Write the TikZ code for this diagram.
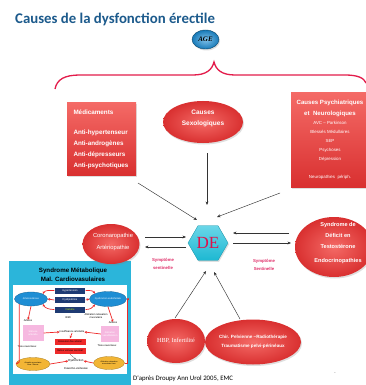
\documentclass[tikz,border=0pt]{standalone}
\usepackage{fontspec}
\setmainfont{Liberation Sans}
\newfontfamily\carl{Carlito}
\newfontfamily\tms{Liberation Serif}
\usetikzlibrary{shapes.geometric,arrows.meta,shadows}
\definecolor{titleblue}{HTML}{1C5A8C}
\definecolor{bracered}{HTML}{E31C4B}
\definecolor{boxredlt}{HTML}{F46A66}
\definecolor{boxreddk}{HTML}{D93030}
\definecolor{decyan}{HTML}{1DB8D2}
\definecolor{decyanlt}{HTML}{6AD6E8}
\definecolor{dered}{HTML}{E0104A}
\definecolor{sentinel}{HTML}{E0306A}
\definecolor{agebl}{HTML}{1B8FD8}
\definecolor{panelcyan}{HTML}{2BB5DA}
\definecolor{navy}{HTML}{1F3B73}
\definecolor{inblue}{HTML}{1E8ED4}
\definecolor{inred}{HTML}{EE2A2A}
\definecolor{inpink}{HTML}{F6B8E0}
\definecolor{leaforange}{HTML}{F2B535}
\newcommand{\psyb}{\bfseries\fontsize{6.1}{9}\selectfont}
\newcommand{\psys}{\mdseries\fontsize{4.4}{9}\selectfont}
\tikzset{
  shadowed/.style={drop shadow={shadow xshift=1pt,shadow yshift=-1.5pt,opacity=0.25}},
  redbox/.style={rectangle, inner sep=0pt, top color=boxredlt, bottom color=boxreddk, text=white, shadowed},
  redell/.style={ellipse, inner sep=0pt, inner color=boxredlt, outer color=boxreddk, text=white, shadowed},
  conn/.style={draw=black!80, line width=0.45pt, -{Stealth[length=3.5pt,width=2.8pt]}},
  sent/.style={text=sentinel, font=\bfseries\fontsize{4.3}{8}\selectfont, align=center, inner sep=0pt},
  intxt/.style={font=\fontsize{2.6}{3.2}\selectfont, align=center, inner sep=0pt},
  inell/.style={ellipse, fill=inblue, draw=inblue!70!black, line width=0.3pt, text=white, font=\fontsize{2.4}{3}\selectfont, inner sep=0pt},
  inbox/.style={rectangle, fill=navy, draw=white, line width=0.4pt, text=white, font=\fontsize{2.6}{3}\selectfont, minimum width=31pt, minimum height=7pt, inner sep=0pt},
  inpinkbox/.style={rectangle, fill=inpink, text=white, font=\fontsize{2.4}{3}\selectfont, align=center, inner sep=0pt},
  inredbox/.style={rectangle, fill=inred, draw=white, line width=0.3pt, text=black, font=\fontsize{2.4}{3}\selectfont, minimum width=32pt, minimum height=7pt, inner sep=0pt},
  leaf/.style={ellipse, fill=leaforange, draw=leaforange!70!black, line width=0.3pt, font=\fontsize{1.9}{2.6}\selectfont, align=center, inner sep=0pt},
  inarrow/.style={draw=inred, line width=0.7pt, -{Stealth[length=2.5pt,width=2.5pt]}},
}
\begin{document}
\begin{tikzpicture}[x=1pt,y=-1pt]
\clip (0,0) rectangle (366,385);
\fill[white] (0,0) rectangle (366,385);

% title
\node[anchor=west, inner sep=0pt, font=\carl\bfseries\fontsize{14.8}{15}\selectfont, text=titleblue] (title) at (15,19) {Causes de la dysfonction érectile};

% AGE
\node[ellipse, minimum width=27pt, minimum height=19pt, inner sep=0pt, inner color=agebl!55!white, outer color=agebl!85!black, draw=agebl!50!black, line width=0.4pt, shadowed] (age) at (205.5,39.5) {\tms\bfseries\itshape\fontsize{7}{7}\selectfont AGE};

% brace
\draw[bracered, line width=1.3pt] (55,89) .. controls (57,79) and (65,75) .. (80,75) -- (193,75)
  .. controls (206,75) and (212,70) .. (214,62) .. controls (216,70) and (222,75) .. (235,75)
  -- (345,75) .. controls (358,75) and (364,78) .. (366,83);

% Medicaments
\node[redbox, minimum width=69pt, minimum height=72pt, text width=56pt, align=left,
  font=\bfseries\fontsize{6.3}{11}\selectfont] (med) at (101.5,139)
  {Médicaments\\[9pt]Anti-hypertenseur\\Anti-androgènes\\Anti-dépresseurs\\Anti-psychotiques};

% Causes sexologiques
\node[redell, minimum width=80pt, minimum height=42pt] (sexo) at (203,122) {};
\node[text=white, font=\bfseries\fontsize{6.5}{11}\selectfont, align=center, inner sep=0pt] (sexot) at (203,118) {Causes\\Sexologiques};

% Psychiatriques
\node[redbox, minimum width=76pt, minimum height=94pt] (psy) at (329,140) {};
\node[text=white, align=center, inner sep=0pt, font=\fontsize{4.4}{9}\selectfont] (psyt) at (330,140)
  {\psyb Causes Psychiatriques\\[2pt]\psyb et~ Neurologiques\\
   \psys AVC -- Parkinson\\\psys Blessés Médullaires\\\psys SEP\\\psys Psychoses\\\psys Dépression\\[9pt]\psys Neuropathies~ périph.};

% inset panel
\fill[panelcyan] (9,261) rectangle (131,386);
\fill[white] (13,285) rectangle (127,374);
\node[font=\bfseries\fontsize{6.2}{9}\selectfont, align=center, inner sep=0pt] (inst) at (73,274.5) {Syndrome Métabolique\\Mal. Cardiovasulaires};
\node[inell, minimum width=33pt, minimum height=14pt] (ath) at (31,299) {Athérosclérose};
\node[inell, minimum width=32pt, minimum height=15pt] (dys) at (108,299) {Dysfonction endothéliale};
\node[inbox] (hyp) at (70,290.5) {Hypertension};
\node[inbox] (dysl) at (70,300) {Dyslipidémie};
\node[inbox, text=yellow!70!green] (diab) at (70,309.5) {Diabète};
\draw[inarrow] (hyp.west) to[out=180,in=60] (ath.north east);
\draw[inarrow] (dysl.west) -- (ath.east);
\draw[inarrow] (diab.west) to[out=180,in=-60] (ath.south east);
\draw[inarrow] (hyp.east) to[out=0,in=120] (dys.north west);
\draw[inarrow] (dysl.east) -- (dys.west);
\draw[inarrow] (diab.east) to[out=0,in=-120] (dys.south west);
\node[intxt] (irmi) at (68,318) {IRMI};
\node[intxt] (altr) at (96,316) {Altération relaxation\\musculaire};
\node[intxt] (art1) at (28,321) {Artères};
\node[intxt] (art2) at (113,323) {Artères};
\node[inpinkbox, minimum width=21pt, minimum height=16pt] (sten) at (33,333) {Sténose\\artérielle};
\node[inpinkbox, minimum width=18pt, minimum height=16pt] (vaso) at (110,334) {Altération\\vasodilatation};
\node[intxt] (insuf) at (72,332) {Insuffisance artérielle};
\node[inredbox] (dim) at (70,342) {Diminution flux artériel};
\node[inredbox] (ret) at (70,350.5) {Retour veineux anormal};
\node[intxt] (tc1) at (27,347) {Tissu caverneux};
\node[intxt] (tc2) at (107,346) {Tissu caverneux};
\node[leaf, minimum width=34pt, minimum height=13pt] (lf1) at (33,364) {Atrophie musculaire\\lisse / fibrose};
\node[leaf, minimum width=31pt, minimum height=13pt] (lf2) at (109,363) {Altération relaxation\\musculaire lisse};
\node[intxt, font=\fontsize{2.9}{3.5}\selectfont] (dysf) at (76,361) {Dysfonction};
\node[intxt, font=\fontsize{2.9}{3.5}\selectfont] (cav) at (76,368) {Caverno-veineuse};
\draw[inarrow] (ath.south) -- (art1.north);
\draw[inarrow] (dys.south) -- (art2.north);
\draw[inarrow] (sten.east) -- (insuf.west);
\draw[inarrow] (vaso.west) -- (insuf.east);
\draw[inarrow] (ath.south west) -- ++(0,58) -- (lf1.west);
\draw[inarrow] (lf2.east) -- ++(3,0) |- (dys.east);
\draw[inarrow] (insuf.south) -- (dim.north);
\draw[draw=black!60, line width=0.3pt, -{Stealth[length=2pt]}] (ret.south) -- (dysf.north);
\draw[inarrow] (lf1.east) -- (dysf.west);
\draw[inarrow] (lf2.west) -- (dysf.east);

% Coronaropathie
\node[redell, minimum width=57pt, minimum height=40pt] (coro) at (111,244) {};
\node[text=white, font=\fontsize{5.8}{12}\selectfont, align=center, inner sep=0pt] (corot) at (113,242) {Coronaropathie\\Artériopathie};

% DE hexagon
\node[regular polygon, regular polygon sides=6, minimum size=40pt, inner sep=0pt, top color=decyanlt, bottom color=decyan, draw=decyan!80!black, line width=0.3pt, shadowed] (de) at (208,243) {};
\node[text=dered, font=\tms\fontsize{17}{17}\selectfont, inner sep=0pt] (det) at (208,243) {DE};

% Syndrome deficit
\node[redell, minimum width=78pt, minimum height=60pt] (synd) at (334,247) {};
\node[text=white, font=\bfseries\fontsize{5.6}{11}\selectfont, align=center, inner sep=0pt] (syndt) at (338,243) {Syndrome de\\Déficit en\\Testostérone\\[3pt]Endocrinopathies};

% bottom ellipses
\node[redell, minimum width=58pt, minimum height=44pt, font=\tms\fontsize{6.2}{8}\selectfont] (hbp) at (176,341) {HBP, Infertilité};
\node[redell, minimum width=81pt, minimum height=45pt, font=\bfseries\fontsize{4.6}{9}\selectfont, align=center] (chir) at (253,342) {Chir. Pelvienne --Radiothérapie\\Traumatisme pelvi-périnéaux};

% sentinel labels
\node[sent] (sl) at (163,263.5) {Symptôme\\sentinelle};
\node[sent] (sr) at (264,265) {Symptôme\\Sentinelle};

% connectors
\coordinate (m1) at (138,183); \coordinate (m2) at (197,220);
\coordinate (s1) at (207,153); \coordinate (s2) at (207,205);
\coordinate (p1) at (280,193); \coordinate (p2) at (217,217);
\coordinate (c1) at (145,237); \coordinate (c2) at (186,237);
\coordinate (c3) at (186,247); \coordinate (c4) at (145,247);
\coordinate (r1) at (289,233); \coordinate (r2) at (233,233);
\coordinate (r3) at (233,243); \coordinate (r4) at (291,243);
\coordinate (h1) at (175,318); \coordinate (h2) at (206,271);
\coordinate (k1) at (240,319); \coordinate (k2) at (214,272);
\draw[conn] (m1) -- (m2);
\draw[conn] (s1) -- (s2);
\draw[conn] (p1) -- (p2);
\draw[conn] (c1) -- (c2);
\draw[conn] (c3) -- (c4);
\draw[conn] (r1) -- (r2);
\draw[conn] (r3) -- (r4);
\draw[conn] (h1) -- (h2);
\draw[conn] (k1) -- (k2);

% credit
\node[anchor=west, inner sep=0pt, font=\carl\fontsize{6.8}{8}\selectfont] (credit) at (133,378.5) {D'après Droupy Ann Urol 2005, EMC};
\node[inner sep=0pt, text=black!50, font=\fontsize{5}{5}\selectfont] (dash) at (335,374) {-};
\end{tikzpicture}
\end{document}
